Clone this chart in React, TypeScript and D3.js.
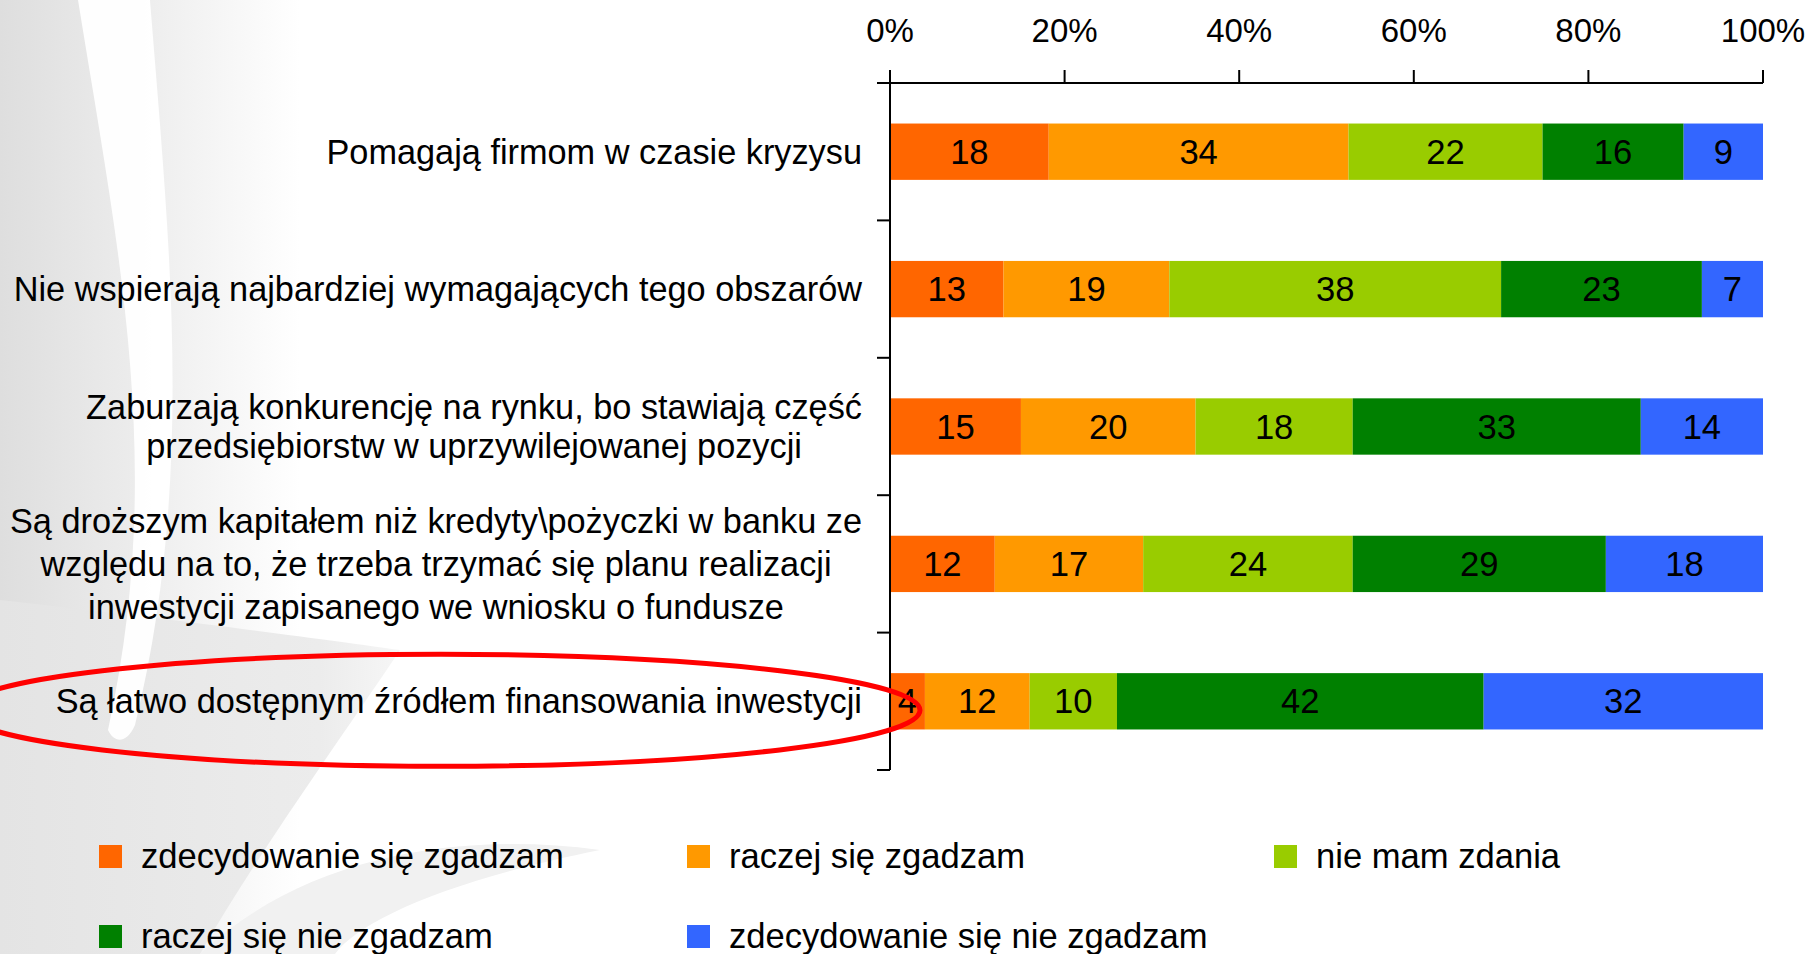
import React, { useEffect, useRef } from "react";
import * as d3 from "d3";

// ---- data ----
const categories = [
  "Pomagają firmom w czasie kryzysu",
  "Nie wspierają najbardziej wymagających tego obszarów",
  "Zaburzają konkurencję na rynku, bo stawiają część\nprzedsiębiorstw w uprzywilejowanej pozycji",
  "Są droższym kapitałem niż kredyty\\pożyczki w banku ze\nwzględu na to, że trzeba trzymać się planu realizacji\ninwestycji zapisanego we wniosku o fundusze",
  "Są łatwo dostępnym źródłem finansowania inwestycji",
];
const seriesNames = [
  "zdecydowanie się zgadzam",
  "raczej się zgadzam",
  "nie mam zdania",
  "raczej się nie zgadzam",
  "zdecydowanie się nie zgadzam",
];
const seriesColors = ["#FF6600", "#FF9900", "#99CC00", "#008000", "#3366FF"];
const zdecydowanieZgadzam = [18, 13, 15, 12, 4];
const raczejZgadzam = [34, 19, 20, 17, 12];
const nieMamZdania = [22, 38, 18, 24, 10];
const raczejNieZgadzam = [16, 23, 33, 29, 42];
const zdecydowanieNieZgadzam = [9, 7, 14, 18, 32];
const tickValues = [0, 0.2, 0.4, 0.6, 0.8, 1];
const highlightedCategory = 4;

const W = 1810;
const H = 954;
const FONT = "'Liberation Sans', Arial, Helvetica, sans-serif";
const FS = 34.6;
const CAT_FS = 34.3;

export default function App() {
  const ref = useRef<SVGSVGElement | null>(null);

  useEffect(() => {
    const svg = d3.select(ref.current);
    svg.selectAll("*").remove();

    const seriesData = [zdecydowanieZgadzam, raczejZgadzam, nieMamZdania, raczejNieZgadzam, zdecydowanieNieZgadzam];
    const rows = categories.map((c, i) => {
      const o: any = { cat: c };
      seriesNames.forEach((s, j) => (o[s] = seriesData[j][i]));
      return o;
    });

    const x = d3.scaleLinear().domain([0, 1]).range([890, 1763]);
    const y = d3.scaleBand<string>().domain(categories).range([83, 770]).paddingInner(0.59).paddingOuter(0.295);
    const yOuter = d3.scaleBand<string>().domain(categories).range([83, 770]);

    const stack = d3.stack<any>().keys(seriesNames).offset(d3.stackOffsetExpand);
    const stacked = stack(rows);

    // ---- background decoration ----
    const defs = svg.append("defs");
    const g1 = defs.append("linearGradient").attr("id", "bgLeft").attr("x1", 0).attr("x2", 1).attr("y1", 0).attr("y2", 0);
    g1.append("stop").attr("offset", 0).attr("stop-color", "#dedede");
    g1.append("stop").attr("offset", 0.45).attr("stop-color", "#ececec");
    g1.append("stop").attr("offset", 1).attr("stop-color", "#ffffff");
    const g2 = defs.append("linearGradient").attr("id", "bgBottom").attr("x1", 0).attr("x2", 1).attr("y1", 0).attr("y2", 0);
    g2.append("stop").attr("offset", 0).attr("stop-color", "#e4e4e4");
    g2.append("stop").attr("offset", 0.8).attr("stop-color", "#ececec");
    g2.append("stop").attr("offset", 1).attr("stop-color", "#f6f6f6");

    svg.append("rect").attr("width", W).attr("height", H).attr("fill", "#ffffff");
    svg.append("rect").attr("x", 0).attr("y", 0).attr("width", 300).attr("height", H).attr("fill", "url(#bgLeft)");
    svg.append("path")
      .attr("d", "M0,600 C180,620 330,640 400,650 C340,740 260,850 200,954 L0,954 Z")
      .attr("fill", "url(#bgBottom)");
    svg.append("path")
      .attr("d", "M200,954 C300,860 450,830 600,850 C450,880 360,920 335,954 Z")
      .attr("fill", "#f1f1f1");
    // white swoosh
    svg.append("path")
      .attr("d", "M78,0 C120,260 165,470 108,730 C115,745 128,742 135,725 C195,480 170,250 150,0 Z")
      .attr("fill", "#ffffff")
      .attr("opacity", 0.95);

    // ---- bars ----
    const layers = svg.append("g").selectAll("g").data(stacked).join("g").attr("fill", (_d, i) => seriesColors[i]);
    layers.selectAll("rect")
      .data((d) => d)
      .join("rect")
      .attr("x", (d) => x(d[0]))
      .attr("width", (d) => x(d[1]) - x(d[0]))
      .attr("y", (d: any) => y(d.data.cat)!)
      .attr("height", y.bandwidth());

    // value labels
    const lbl = svg.append("g").attr("font-family", FONT).attr("font-size", FS).attr("fill", "#000").attr("text-anchor", "middle");
    stacked.forEach((layer) => {
      layer.forEach((d: any) => {
        lbl.append("text")
          .attr("x", (x(d[0]) + x(d[1])) / 2)
          .attr("y", y(d.data.cat)! + y.bandwidth() / 2 + 12)
          .text(d.data[layer.key]);
      });
    });

    // ---- axes ----
    const axis = svg.append("g").attr("stroke", "#000").attr("stroke-width", 2).attr("fill", "none");
    axis.append("line").attr("x1", 877).attr("x2", x(1)).attr("y1", 83).attr("y2", 83);
    axis.append("line").attr("x1", x(0)).attr("x2", x(0)).attr("y1", 70).attr("y2", 770);
    tickValues.forEach((t) => {
      axis.append("line").attr("x1", x(t)).attr("x2", x(t)).attr("y1", 70).attr("y2", 83);
    });
    const bounds = categories.map((c) => yOuter(c)!).concat([770]);
    bounds.forEach((b) => {
      axis.append("line").attr("x1", 877).attr("x2", x(0)).attr("y1", b).attr("y2", b);
    });

    svg.append("g").attr("font-family", FONT).attr("font-size", 33).attr("text-anchor", "middle")
      .selectAll("text").data(tickValues).join("text")
      .attr("x", (d) => x(d)).attr("y", 42)
      .text((d) => d3.format(".0%")(d));

    // ---- category labels ----
    const catG = svg.append("g").attr("font-family", FONT).attr("font-size", CAT_FS).attr("fill", "#000");
    const rightEdge = 862;
    categories.forEach((c) => {
      const lines = c.split("\n");
      const lineH = lines.length > 2 ? 43 : 39;
      const cy = yOuter(c)! + yOuter.bandwidth() / 2;
      const texts = lines.map((ln, k) =>
        catG.append("text")
          .attr("y", cy + (k - (lines.length - 1) / 2) * lineH + 12)
          .attr("text-anchor", "middle")
          .text(ln)
      );
      const widths = texts.map((t) => (t.node() as SVGTextElement).getComputedTextLength());
      const maxW = d3.max(widths) || 0;
      texts.forEach((t) => t.attr("x", rightEdge - maxW / 2));
    });

    // ---- legend ----
    const legCols = [99, 687, 1274];
    const legRows = [845, 925];
    const leg = svg.append("g").attr("font-family", FONT).attr("font-size", FS);
    seriesNames.forEach((s, i) => {
      const col = i % 3;
      const row = Math.floor(i / 3);
      const gx = legCols[col];
      const gy = legRows[row];
      leg.append("rect").attr("x", gx).attr("y", gy).attr("width", 23).attr("height", 23).attr("fill", seriesColors[i]);
      leg.append("text").attr("x", gx + 42).attr("y", gy + 23).text(s);
    });

    // ---- highlight ellipse ----
    const hc = categories[highlightedCategory];
    const hy = yOuter(hc)! + yOuter.bandwidth() / 2;
    svg.append("ellipse")
      .attr("cx", 441)
      .attr("cy", hy + 9)
      .attr("rx", 479)
      .attr("ry", 56)
      .attr("fill", "none")
      .attr("stroke", "#ff0000")
      .attr("stroke-width", 5);
  }, []);

  return (
    <svg
      ref={ref}
      width={W}
      height={H}
      viewBox={`0 0 ${W} ${H}`}
      style={{ position: "absolute", left: 0, top: 0, display: "block" }}
    />
  );
}
